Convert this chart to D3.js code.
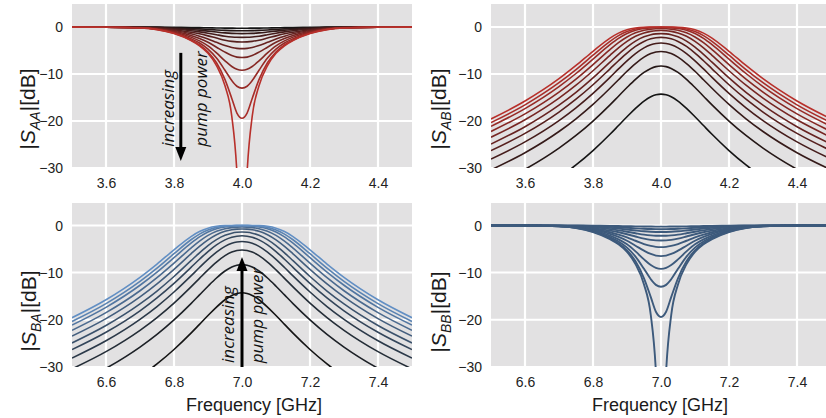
<!DOCTYPE html>
<html>
<head>
<meta charset="utf-8">
<script src="https://cdn.jsdelivr.net/npm/d3@7"></script>
<style>
  body { margin: 0; background: #ffffff; }
  svg { display: block; }
</style>
</head>
<body>
<svg id="chart" width="826" height="418"></svg>
<script>
// Frequency samples (GHz) around the two mode frequencies
const freqA = [3.5, 3.6, 3.7, 3.75, 3.8, 3.85, 3.875, 3.9, 3.925, 3.95, 3.97, 3.985, 4.0,
               4.015, 4.03, 4.05, 4.075, 4.1, 4.125, 4.15, 4.2, 4.25, 4.3, 4.4, 4.5];
const freqB = [6.5, 6.6, 6.7, 6.75, 6.8, 6.85, 6.875, 6.9, 6.925, 6.95, 6.97, 6.985, 7.0,
               7.015, 7.03, 7.05, 7.075, 7.1, 7.125, 7.15, 7.2, 7.25, 7.3, 7.4, 7.5];

// Reflection |S_AA| = |S_BB| in dB, one row per pump power (low -> high)
const reflectionDb = [
  [-0.001, -0.003, -0.01, -0.022, -0.05, -0.095, -0.125, -0.16, -0.195, -0.225, -0.24, -0.248, -0.25, -0.248, -0.24, -0.225, -0.195, -0.16, -0.125, -0.095, -0.05, -0.022, -0.01, -0.003, -0.001],
  [-0.004, -0.01, -0.03, -0.07, -0.16, -0.3, -0.39, -0.5, -0.62, -0.72, -0.77, -0.79, -0.8, -0.79, -0.77, -0.72, -0.62, -0.5, -0.39, -0.3, -0.16, -0.07, -0.03, -0.01, -0.004],
  [-0.006, -0.015, -0.05, -0.12, -0.28, -0.52, -0.68, -0.87, -1.07, -1.25, -1.35, -1.39, -1.4, -1.39, -1.35, -1.25, -1.07, -0.87, -0.68, -0.52, -0.28, -0.12, -0.05, -0.015, -0.006],
  [-0.008, -0.02, -0.07, -0.18, -0.42, -0.79, -1.04, -1.33, -1.65, -1.95, -2.11, -2.18, -2.2, -2.18, -2.11, -1.95, -1.65, -1.33, -1.04, -0.79, -0.42, -0.18, -0.07, -0.02, -0.008],
  [-0.01, -0.025, -0.09, -0.24, -0.57, -1.1, -1.45, -1.88, -2.35, -2.8, -3.06, -3.17, -3.2, -3.17, -3.06, -2.8, -2.35, -1.88, -1.45, -1.1, -0.57, -0.24, -0.09, -0.025, -0.01],
  [-0.012, -0.03, -0.11, -0.3, -0.74, -1.45, -1.95, -2.55, -3.25, -3.95, -4.35, -4.54, -4.6, -4.54, -4.35, -3.95, -3.25, -2.55, -1.95, -1.45, -0.74, -0.3, -0.11, -0.03, -0.012],
  [-0.014, -0.035, -0.13, -0.36, -0.9, -1.8, -2.45, -3.25, -4.3, -5.35, -6.05, -6.4, -6.5, -6.4, -6.05, -5.35, -4.3, -3.25, -2.45, -1.8, -0.9, -0.36, -0.13, -0.035, -0.014],
  [-0.016, -0.04, -0.15, -0.42, -1.05, -2.15, -2.95, -4.0, -5.5, -7.2, -8.4, -9.0, -9.2, -9.0, -8.4, -7.2, -5.5, -4.0, -2.95, -2.15, -1.05, -0.42, -0.15, -0.04, -0.016],
  [-0.018, -0.045, -0.17, -0.47, -1.2, -2.5, -3.4, -4.7, -6.6, -9.2, -11.4, -12.6, -13, -12.6, -11.4, -9.2, -6.6, -4.7, -3.4, -2.5, -1.2, -0.47, -0.17, -0.045, -0.018],
  [-0.02, -0.05, -0.19, -0.52, -1.32, -2.75, -3.8, -5.3, -7.6, -11.2, -15.2, -18.3, -19.4, -18.3, -15.2, -11.2, -7.6, -5.3, -3.8, -2.75, -1.32, -0.52, -0.19, -0.05, -0.02],
  [-0.02, -0.05, -0.2, -0.55, -1.4, -2.9, -4.0, -5.6, -8.2, -12.5, -19, -31, -60, -31, -19, -12.5, -8.2, -5.6, -4.0, -2.9, -1.4, -0.55, -0.2, -0.05, -0.02]
];

// Transmission |S_AB| = |S_BA| in dB, one row per pump power (low -> high)
const transmissionDb = [
  [-40.18, -36.54, -32.04, -29.35, -26.29, -22.83, -20.97, -19.10, -17.30, -15.75, -14.84, -14.43, -14.28, -14.43, -14.84, -15.75, -17.30, -19.10, -20.97, -22.83, -26.29, -29.35, -32.04, -36.54, -40.18],
  [-33.92, -30.28, -25.77, -23.08, -20.01, -16.56, -14.72, -12.88, -11.14, -9.66, -8.81, -8.43, -8.30, -8.43, -8.81, -9.66, -11.14, -12.88, -14.72, -16.56, -20.01, -23.08, -25.77, -30.28, -33.92],
  [-30.40, -26.75, -22.23, -19.53, -16.46, -13.02, -11.21, -9.42, -7.77, -6.41, -5.65, -5.32, -5.20, -5.32, -5.65, -6.41, -7.77, -9.42, -11.21, -13.02, -16.46, -19.53, -22.23, -26.75, -30.40],
  [-28.10, -24.44, -19.90, -17.19, -14.11, -10.70, -8.92, -7.20, -5.66, -4.44, -3.78, -3.50, -3.40, -3.50, -3.78, -4.44, -5.66, -7.20, -8.92, -10.70, -14.11, -17.19, -19.90, -24.44, -28.10],
  [-26.31, -22.64, -18.09, -15.36, -12.28, -8.89, -7.17, -5.54, -4.12, -3.06, -2.51, -2.28, -2.20, -2.28, -2.51, -3.06, -4.12, -5.54, -7.17, -8.89, -12.28, -15.36, -18.09, -22.64, -26.31],
  [-24.90, -21.21, -16.63, -13.90, -10.82, -7.47, -5.81, -4.27, -3.00, -2.09, -1.64, -1.46, -1.40, -1.46, -1.64, -2.09, -3.00, -4.27, -5.81, -7.47, -10.82, -13.90, -16.63, -21.21, -24.90],
  [-23.45, -19.74, -15.13, -12.38, -9.30, -6.02, -4.44, -3.06, -1.97, -1.25, -0.92, -0.79, -0.75, -0.79, -0.92, -1.25, -1.97, -3.06, -4.44, -6.02, -9.30, -12.38, -15.13, -19.74, -23.45],
  [-22.22, -18.48, -13.84, -11.07, -7.99, -4.80, -3.34, -2.12, -1.23, -0.69, -0.46, -0.38, -0.35, -0.38, -0.46, -0.69, -1.23, -2.12, -3.34, -4.80, -7.99, -11.07, -13.84, -18.48, -22.22],
  [-21.12, -17.36, -12.68, -9.89, -6.83, -3.76, -2.43, -1.39, -0.70, -0.33, -0.18, -0.13, -0.12, -0.13, -0.18, -0.33, -0.70, -1.39, -2.43, -3.76, -6.83, -9.89, -12.68, -17.36, -21.12],
  [-20.34, -16.56, -11.85, -9.05, -6.00, -3.04, -1.84, -0.95, -0.41, -0.15, -0.06, -0.04, -0.03, -0.04, -0.06, -0.15, -0.41, -0.95, -1.84, -3.04, -6.00, -9.05, -11.85, -16.56, -20.34],
  [-19.56, -15.75, -11.00, -8.18, -5.17, -2.36, -1.30, -0.58, -0.19, -0.04, -0.01, 0.00, 0.00, 0.00, -0.01, -0.04, -0.19, -0.58, -1.30, -2.36, -5.17, -8.18, -11.00, -15.75, -19.56]
];

const xTicksA = [3.6, 3.8, 4.0, 4.2, 4.4];
const xTicksB = [6.6, 6.8, 7.0, 7.2, 7.4];
const yTicks = [0, -10, -20, -30];

const svg = d3.select("#chart");
const tickFont = "'Liberation Sans', Arial, sans-serif";

// Panel layout
const colX = [[72, 412], [491, 831]];
const rowY = [{ range: [168, 4], top: 4.9 }, { range: [367, 203], top: 4.75 }];

const red = "#b8302b", blue = "#628fc4", slate = "#3d5a7c", dark = "#141414";

const panels = [
  { col: 0, row: 0, freq: freqA, data: reflectionDb, ticks: xTicksA, sub: "AA",
    color: i => d3.interpolateRgb(dark, red)(i / 10), labelX: 28, labelY: 109 },
  { col: 1, row: 0, freq: freqA, data: transmissionDb, ticks: xTicksA, sub: "AB",
    color: i => d3.interpolateRgb(dark, red)(i / 10), labelX: 439, labelY: 109 },
  { col: 0, row: 1, freq: freqB, data: transmissionDb, ticks: xTicksB, sub: "BA",
    color: i => d3.interpolateRgb(dark, blue)(i / 10), labelX: 29, labelY: 311, xlabel: 254 },
  { col: 1, row: 1, freq: freqB, data: reflectionDb, ticks: xTicksB, sub: "BB",
    color: () => slate, labelX: 439, labelY: 312, xlabel: 660, width: 1.9 }
];

panels.forEach((p, pi) => {
  const [x0, x1] = colX[p.col];
  const ry = rowY[p.row];
  const x = d3.scaleLinear().domain([p.freq[0], p.freq[p.freq.length - 1]]).range([x0, x1]);
  const y = d3.scaleLinear().domain([-30, ry.top]).range(ry.range);
  p.x = x; p.y = y;

  const g = svg.append("g");
  const clipId = "clip" + pi;
  svg.append("clipPath").attr("id", clipId)
    .append("rect").attr("x", x0).attr("y", ry.range[1])
    .attr("width", x1 - x0).attr("height", ry.range[0] - ry.range[1]);

  g.append("rect").attr("x", x0).attr("y", ry.range[1])
    .attr("width", x1 - x0).attr("height", ry.range[0] - ry.range[1])
    .attr("fill", "#e2e1e2");

  const grid = g.append("g").attr("clip-path", `url(#${clipId})`);
  grid.selectAll("line.v").data(p.ticks).join("line")
    .attr("x1", d => x(d)).attr("x2", d => x(d))
    .attr("y1", ry.range[1]).attr("y2", ry.range[0])
    .attr("stroke", "#ffffff").attr("stroke-width", 2.2);
  grid.selectAll("line.h").data(yTicks).join("line")
    .attr("x1", x0).attr("x2", x1)
    .attr("y1", d => y(d)).attr("y2", d => y(d))
    .attr("stroke", "#ffffff").attr("stroke-width", 2);

  const line = d3.line()
    .x((d, i) => x(p.freq[i]))
    .y(d => y(d))
    .curve(d3.curveMonotoneX);

  g.append("g").attr("clip-path", `url(#${clipId})`)
    .selectAll("path").data(p.data).join("path")
    .attr("d", line)
    .attr("fill", "none")
    .attr("stroke", (d, i) => p.color(i))
    .attr("stroke-width", p.width || 1.6)
    .attr("stroke-linejoin", "round");

  // Axis tick labels
  const xAxis = d3.axisBottom(x).tickValues(p.ticks).tickFormat(d3.format(".1f")).tickSize(0).tickPadding(0);
  const xa = g.append("g").attr("transform", `translate(0,${ry.range[0] + 20})`).call(xAxis);
  xa.select(".domain").remove();
  xa.selectAll("text").attr("font-family", tickFont).attr("font-size", 14).attr("fill", "#222").attr("dy", 0);

  const yAxis = d3.axisLeft(y).tickValues(yTicks).tickFormat(d3.format("d")).tickSize(0).tickPadding(0);
  const ya = g.append("g").attr("transform", `translate(${x0 - 9},0)`).call(yAxis);
  ya.select(".domain").remove();
  ya.selectAll("text").attr("font-family", tickFont).attr("font-size", 14).attr("fill", "#222").attr("dy", "0.35em");

  // Y axis label |S_xy| [dB]
  const lab = svg.append("text")
    .attr("transform", `translate(${p.labelX},${p.labelY}) rotate(-90)`)
    .attr("text-anchor", "middle")
    .attr("font-family", tickFont).attr("font-size", 21).attr("fill", "#1a1a1a")
    .attr("y", 7);
  lab.append("tspan").text("|");
  lab.append("tspan").attr("font-style", "italic").text("S");
  lab.append("tspan").attr("font-style", "italic").attr("font-size", 14).attr("dy", 5).text(p.sub);
  lab.append("tspan").attr("dy", -5).text("|[dB]");

  if (p.xlabel) {
    svg.append("text").attr("x", p.xlabel).attr("y", 411)
      .attr("text-anchor", "middle")
      .attr("font-family", tickFont).attr("font-size", 18).attr("fill", "#1a1a1a")
      .text("Frequency [GHz]");
  }
});

// Pump-power annotations
function annotate(p, xArrow, yFrom, yTo, txt) {
  const x = p.x, y = p.y;
  const ax = x(xArrow), a0 = y(yFrom), a1 = y(yTo);
  const dir = Math.sign(a1 - a0);
  svg.append("line").attr("x1", ax).attr("x2", ax)
    .attr("y1", a0).attr("y2", a1 - dir * 12)
    .attr("stroke", "#000").attr("stroke-width", 3);
  svg.append("path")
    .attr("d", `M${ax - 5.5},${a1 - dir * 14} L${ax + 5.5},${a1 - dir * 14} L${ax},${a1} Z`)
    .attr("fill", "#000");
  txt.forEach(t => {
    svg.append("text")
      .attr("transform", `translate(${x(t.fx)},${y(t.db)}) rotate(-90)`)
      .attr("text-anchor", "middle").attr("dominant-baseline", "central")
      .attr("font-family", "'Open Sans', sans-serif").attr("font-style", "italic")
      .attr("font-size", 17).attr("fill", "#111")
      .text(t.s);
  });
}

annotate(panels[0], 3.82, -5.5, -28.5, [
  { fx: 3.78, db: -17.3, s: "increasing" },
  { fx: 3.877, db: -15.3, s: "pump power" }
]);
annotate(panels[2], 7.0, -30, -6.7, [
  { fx: 6.956, db: -21, s: "increasing" },
  { fx: 7.044, db: -19.1, s: "pump power" }
]);
</script>
</body>
</html>
